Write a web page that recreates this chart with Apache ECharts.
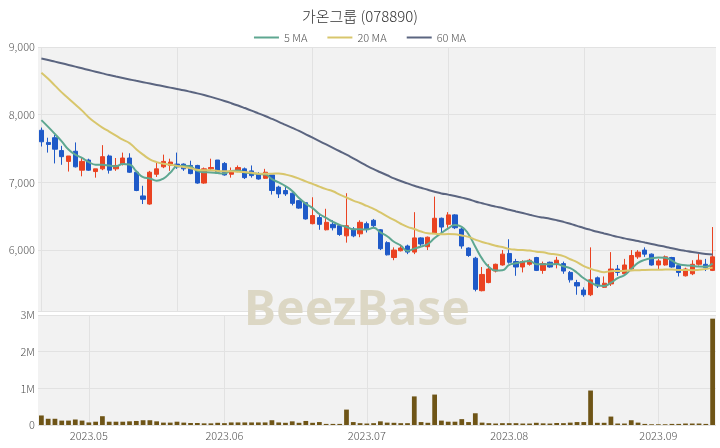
<!DOCTYPE html>
<html><head><meta charset="utf-8">
<script src="https://cdn.jsdelivr.net/npm/echarts@6/dist/echarts.min.js"></script>
<style>html,body{margin:0;padding:0;background:#fff}#c{width:720px;height:448px}</style>
</head><body><div id="c"></div>
<script>
const dates = ['2023-04-20','2023-04-21','2023-04-24','2023-04-25','2023-04-26','2023-04-27','2023-04-28',
'2023-05-02','2023-05-03','2023-05-04','2023-05-08','2023-05-09','2023-05-10','2023-05-11','2023-05-12','2023-05-15','2023-05-16','2023-05-17','2023-05-18','2023-05-19','2023-05-22','2023-05-23','2023-05-24','2023-05-25','2023-05-26','2023-05-30','2023-05-31',
'2023-06-01','2023-06-02','2023-06-05','2023-06-07','2023-06-08','2023-06-09','2023-06-12','2023-06-13','2023-06-14','2023-06-15','2023-06-16','2023-06-19','2023-06-20','2023-06-21','2023-06-22','2023-06-23','2023-06-26','2023-06-27','2023-06-28','2023-06-29','2023-06-30',
'2023-07-03','2023-07-04','2023-07-05','2023-07-06','2023-07-07','2023-07-10','2023-07-11','2023-07-12','2023-07-13','2023-07-14','2023-07-17','2023-07-18','2023-07-19','2023-07-20','2023-07-21','2023-07-24','2023-07-25','2023-07-26','2023-07-27','2023-07-28','2023-07-31',
'2023-08-01','2023-08-02','2023-08-03','2023-08-04','2023-08-07','2023-08-08','2023-08-09','2023-08-10','2023-08-11','2023-08-14','2023-08-16','2023-08-17','2023-08-18','2023-08-21','2023-08-22','2023-08-23','2023-08-24','2023-08-25','2023-08-28','2023-08-29','2023-08-30','2023-08-31',
'2023-09-01','2023-09-04','2023-09-05','2023-09-06','2023-09-07','2023-09-08','2023-09-11','2023-09-12','2023-09-13'];

const opens = [7770,7590,7660,7470,7310,7460,7180,7330,7160,7200,7390,7200,7270,7360,7150,6800,6680,7120,7230,7250,
7270,7270,7250,7250,6990,7200,7330,7280,7120,7170,7200,7170,7130,7060,7110,6930,6880,6840,6730,6700,
6390,6480,6300,6380,6360,6210,6310,6240,6390,6440,6300,6110,5890,5990,6060,5970,6180,6050,6250,6470,
6380,6520,6310,6030,5880,5400,5520,5690,5780,5950,5830,5750,5790,5890,5700,5820,5790,5800,5670,5520,
5410,5340,5590,5450,5500,5720,5650,5720,5900,6000,5940,5780,5780,5890,5770,5620,5650,5790,5790,5700];
const closes = [7600,7560,7490,7380,7390,7230,7310,7180,7200,7380,7180,7250,7360,7150,6880,6750,7150,7200,7310,7300,
7230,7200,7130,6990,7200,7220,7150,7110,7170,7220,7070,7100,7050,7150,6880,6830,6830,6690,6620,6460,
6510,6380,6410,6330,6230,6360,6210,6410,6310,6360,6020,5930,6000,6030,5970,6180,6090,6190,6470,6340,
6520,6330,6060,5920,5420,5640,5720,5790,5940,5820,5750,5830,5850,5700,5800,5750,5850,5690,5560,5470,
5340,5560,5470,5510,5720,5670,5780,5920,5970,5940,5780,5840,5900,5750,5670,5720,5790,5850,5740,5900];
const lows = [7530,7440,7280,7260,7160,7220,7090,7170,7070,7180,7130,7170,7250,7140,6870,6680,6670,7080,7210,7170,
7200,7170,7120,6980,6980,7170,7140,7100,7070,7150,7050,7070,7040,7050,6820,6770,6800,6660,6610,6450,
6380,6300,6290,6290,6210,6110,6190,6190,6260,6330,6000,5920,5850,5980,5940,5940,6050,6000,6240,6250,
6330,6310,6020,5900,5390,5390,5510,5670,5770,5800,5620,5670,5770,5690,5650,5740,5730,5650,5520,5340,
5310,5320,5440,5440,5470,5620,5630,5690,5870,5900,5770,5720,5770,5740,5610,5610,5630,5770,5690,5690];
const highs = [7810,7660,7700,7540,7390,7590,7360,7350,7200,7550,7410,7360,7440,7430,7150,6950,7170,7300,7410,7350,
7440,7280,7320,7260,7220,7350,7330,7300,7220,7250,7220,7250,7150,7200,7110,6950,6950,6850,6740,6700,
6780,6530,6610,6440,6370,6840,6340,6440,6420,6460,6310,6130,6040,6080,6080,6560,6190,6200,6790,6480,
6560,6530,6330,6040,5900,5750,5790,5800,6000,6160,5870,5850,5870,5900,5830,5830,5900,5830,5690,5560,
5450,6040,5610,5610,5970,5780,5870,6000,6000,6040,5950,5870,5920,5900,5790,5740,5850,5940,5870,6340];
const volumes = [260000,170000,170000,120000,120000,150000,120000,70000,90000,240000,90000,90000,90000,100000,110000,130000,130000,100000,65000,65000,
90000,65000,55000,55000,45000,45000,60000,50000,70000,70000,70000,70000,70000,70000,130000,70000,60000,100000,60000,110000,
60000,80000,30000,30000,30000,420000,80000,50000,40000,50000,100000,65000,60000,50000,50000,780000,80000,60000,830000,120000,
90000,90000,160000,80000,320000,65000,50000,40000,50000,50000,50000,40000,40000,60000,45000,40000,55000,50000,65000,80000,
80000,940000,60000,60000,230000,40000,40000,130000,65000,30000,20000,20000,20000,30000,30000,40000,40000,40000,30000,2900000];
const ma5 = [7920,7820,7715,7605,7485,7411,7361,7299,7262,7259,7249,7238,7273,7263,7163,7077,7057,7025,7057,7141,
7237,7247,7234,7169,7149,7147,7137,7133,7170,7175,7146,7136,7123,7118,7049,7000,6946,6874,6768,6684,
6620,6532,6475,6418,6372,6342,6308,6308,6303,6330,6261,6205,6123,6067,5988,6021,6052,6090,6178,6252,
6321,6369,6344,6233,6050,5873,5751,5697,5702,5781,5805,5827,5839,5792,5789,5789,5793,5761,5732,5666,
5583,5524,5479,5470,5519,5585,5630,5719,5811,5855,5878,5889,5886,5844,5790,5777,5767,5757,5755,5802];
const ma20 = [8620,8530,8430,8330,8240,8150,8060,7960,7880,7810,7750,7690,7630,7580,7490,7410,7340,7300,7275,7262,
7244,7226,7208,7188,7178,7178,7170,7166,7165,7157,7152,7144,7129,7129,7129,7132,7116,7091,7056,7014,
6978,6938,6901,6869,6820,6777,6730,6695,6652,6609,6556,6497,6445,6389,6343,6311,6274,6249,6242,6235,
6236,6233,6216,6195,6155,6119,6094,6063,6045,6018,6005,6000,5993,5976,5968,5947,5935,5910,5865,5821,
5762,5724,5694,5674,5689,5690,5694,5700,5701,5707,5709,5709,5712,5714,5707,5706,5703,5711,5720,5741];
const ma60 = [8830,8808,8784,8760,8735,8710,8685,8660,8635,8610,8585,8563,8542,8521,8500,8480,8460,8440,8420,8400,
8380,8360,8338,8315,8290,8263,8234,8203,8170,8135,8098,8060,8020,7980,7938,7895,7850,7805,7760,7710,
7660,7610,7560,7510,7460,7410,7355,7300,7245,7195,7150,7105,7060,7020,6985,6950,6920,6890,6862,6837,
6819,6799,6775,6751,6718,6691,6665,6642,6621,6595,6571,6547,6522,6498,6480,6463,6442,6417,6388,6357,
6326,6298,6271,6246,6221,6195,6173,6153,6133,6111,6090,6069,6050,6026,6006,5988,5971,5957,5942,5933];
const priceRange = [5100, 9000];
const volumeTicks = [0, 1000000, 2000000, 3000000];

const FONT = '"Noto Sans CJK KR","Noto Sans",sans-serif';
const UP = '#ea4322', DOWN = '#1f5ac8';
const monthStart = (i, v) => i > 0 && v.slice(0, 7) !== dates[i - 1].slice(0, 7);

const chart = echarts.init(document.getElementById('c'), null, {renderer: 'canvas'});
chart.setOption({
  animation: false,
  textStyle: {fontFamily: FONT},
  title: {text: '가온그룹 (078890)', left: 'center', top: 4,
    textStyle: {fontSize: 15, fontWeight: 300, color: '#333', fontFamily: FONT}},
  legend: {top: 27, left: 'center', icon: 'rect', itemWidth: 25, itemHeight: 2, itemGap: 20,
    textStyle: {fontSize: 11, fontWeight: 300, color: '#555', fontFamily: FONT},
    data: ['5 MA', '20 MA', '60 MA']},
  graphic: [{type: 'text', z: 1, x: 357, y: 311,
    style: {text: 'BeezBase', fontSize: 48, fontWeight: 'bold', fontFamily: '"Noto Sans",sans-serif',
      fill: '#dcd7c4', align: 'center', verticalAlign: 'middle'}}],
  grid: [
    {left: 38, right: 4, top: 47, height: 264, show: true, backgroundColor: '#f2f2f2', borderWidth: 0},
    {left: 38, right: 4, top: 315, height: 110, show: true, backgroundColor: '#f2f2f2', borderWidth: 0}
  ],
  xAxis: [
    {type: 'category', gridIndex: 0, data: dates, boundaryGap: true,
      axisLine: {show: false}, axisTick: {show: false}, axisLabel: {show: false},
      splitLine: {show: true, interval: 19, alignWithLabel: true, lineStyle: {color: '#e2e2e2', width: 1}}},
    {type: 'category', gridIndex: 1, data: dates, boundaryGap: true,
      axisLine: {show: false}, axisTick: {show: false},
      axisLabel: {interval: monthStart, formatter: v => v.slice(0, 4) + '.' + v.slice(5, 7),
        fontSize: 11, fontWeight: 300, color: '#555', margin: 5, fontFamily: FONT},
      splitLine: {show: true, interval: monthStart, alignWithLabel: true, lineStyle: {color: '#e2e2e2', width: 1}}}
  ],
  yAxis: [
    {type: 'value', gridIndex: 0, min: priceRange[0], max: priceRange[1], scale: true,
      axisLine: {show: false}, axisTick: {show: false},
      axisLabel: {showMinLabel: false, fontSize: 11, fontWeight: 300, color: '#555', margin: 3, fontFamily: FONT,
        formatter: v => v.toLocaleString('en-US')},
      splitLine: {lineStyle: {color: '#e2e2e2', width: 1}}},
    {type: 'value', gridIndex: 1, min: volumeTicks[0], max: volumeTicks[volumeTicks.length - 1], interval: 1000000,
      axisLine: {show: false}, axisTick: {show: false},
      axisLabel: {fontSize: 11, fontWeight: 300, color: '#555', margin: 3, fontFamily: FONT,
        formatter: v => v === 0 ? '0' : (v / 1000000) + 'M'},
      splitLine: {lineStyle: {color: '#e2e2e2', width: 1}}}
  ],
  series: [
    {name: 'price', type: 'candlestick', xAxisIndex: 0, yAxisIndex: 0, barWidth: '70%', z: 3,
      data: dates.map((d, i) => [opens[i], closes[i], lows[i], highs[i]]),
      itemStyle: {color: UP, color0: DOWN, borderColor: UP, borderColor0: DOWN, borderWidth: 1}},
    {name: '5 MA', type: 'line', xAxisIndex: 0, yAxisIndex: 0, data: ma5, smooth: true, symbol: 'none', z: 4,
      lineStyle: {color: '#5ea791', width: 2}, itemStyle: {color: '#5ea791'}},
    {name: '20 MA', type: 'line', xAxisIndex: 0, yAxisIndex: 0, data: ma20, smooth: true, symbol: 'none', z: 4,
      lineStyle: {color: '#d8c66c', width: 2}, itemStyle: {color: '#d8c66c'}},
    {name: '60 MA', type: 'line', xAxisIndex: 0, yAxisIndex: 0, data: ma60, smooth: true, symbol: 'none', z: 4,
      lineStyle: {color: '#5b6580', width: 2}, itemStyle: {color: '#5b6580'}},
    {name: 'volume', type: 'bar', xAxisIndex: 1, yAxisIndex: 1, data: volumes, barWidth: '70%',
      itemStyle: {color: '#6f5517'}}
  ]
});
</script></body></html>
